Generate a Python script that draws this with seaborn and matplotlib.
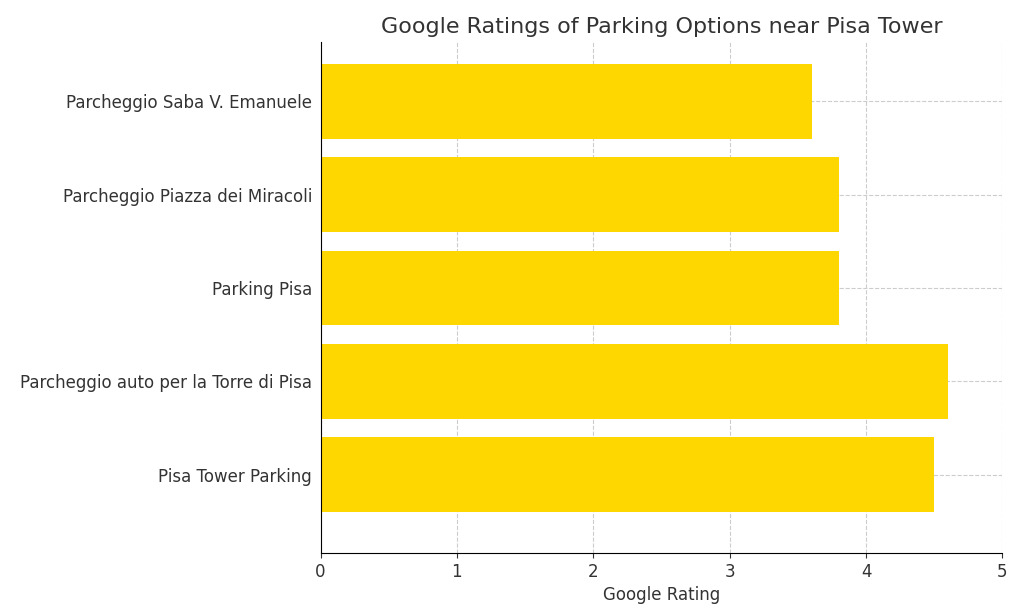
import matplotlib
matplotlib.use("Agg")
import matplotlib.pyplot as plt
import seaborn as sns
import pandas as pd

names = ["Parcheggio Saba V. Emanuele", "Parcheggio Piazza dei Miracoli", "Parking Pisa",
         "Parcheggio auto per la Torre di Pisa", "Pisa Tower Parking"]
ratings = [3.6, 3.8, 3.8, 4.6, 4.5]

df = pd.DataFrame({"name": names, "rating": ratings})

fig, ax = plt.subplots(figsize=(10.24, 6.14), dpi=100)
fig.subplots_adjust(left=0.313, right=0.979, top=0.932, bottom=0.099)
sns.barplot(data=df, x="rating", y="name", color="#FFD700", saturation=1, width=0.8, ax=ax, zorder=2)
ax.set_xlim(0, 5)
# matplotlib default 5% margins instead of seaborn's tight limits
ax.set_ylim(len(names) - 0.4 + 0.24, -0.64)
ax.grid(True, linestyle="--", color="#cccccc", linewidth=0.8, zorder=0)
ax.set_axisbelow(True)
ax.spines["top"].set_visible(False)
ax.spines["right"].set_visible(False)
ax.set_title("Google Ratings of Parking Options near Pisa Tower", fontsize=16, color="#333333")
ax.set_xlabel("Google Rating", fontsize=12, color="#333333")
ax.set_ylabel("")
ax.tick_params(labelsize=12, colors="#333333")
ax.tick_params(axis="y", length=0, pad=6)
fig.savefig("out.png")
